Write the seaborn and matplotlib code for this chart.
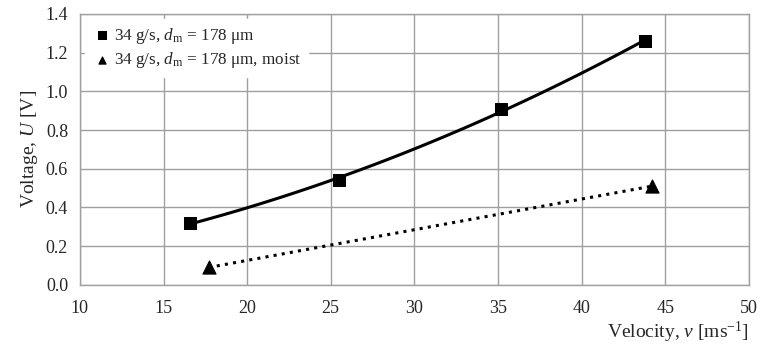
import numpy as np
import pandas as pd
import matplotlib
matplotlib.use("Agg")
import matplotlib.pyplot as plt
import seaborn as sns

# Data
velocity_dry = [16.6, 25.5, 35.2, 43.8]
voltage_dry = [0.32, 0.54, 0.91, 1.26]
velocity_moist = [17.7, 44.2]
voltage_moist = [0.09, 0.51]

label_dry = r"34 g/s, $d_\mathrm{m}$ = 178 μm"
label_moist = r"34 g/s, $d_\mathrm{m}$ = 178 μm, moist"

dry_df = pd.DataFrame({"v": velocity_dry, "U": voltage_dry})
moist_df = pd.DataFrame({"v": velocity_moist, "U": voltage_moist})

sns.set_style("white")
plt.rcParams["font.family"] = ["Liberation Serif", "DejaVu Serif"]
plt.rcParams["mathtext.fontset"] = "custom"
plt.rcParams["mathtext.rm"] = "Liberation Serif"
plt.rcParams["mathtext.it"] = "Liberation Serif:italic"

grid_color = "#a0a0a0"

fig = plt.figure(figsize=(7.61, 3.47), dpi=100)
ax = fig.add_axes([0.105, 0.179, 0.879, 0.781])

# trendlines (quadratic for dry, linear for moist)
sns.regplot(data=dry_df, x="v", y="U", order=2, ci=None, scatter=False, truncate=True,
            line_kws={"color": "black", "lw": 2.2}, ax=ax)
sns.regplot(data=moist_df, x="v", y="U", order=1, ci=None, scatter=False, truncate=True,
            line_kws={"color": "black", "lw": 2.2, "linestyle": (0, (1, 1.7))}, ax=ax)

sns.scatterplot(data=dry_df, x="v", y="U", marker="s", s=85, color="black",
                edgecolor="black", ax=ax, label=label_dry, zorder=5)
sns.scatterplot(data=moist_df, x="v", y="U", marker="^", s=90, color="black",
                edgecolor="black", ax=ax, label=label_moist, zorder=5)

ax.set_xlim(10, 50)
ax.set_ylim(0, 1.4)
ax.set_xticks(np.arange(10, 51, 5))
ax.set_yticks(np.arange(0, 1.41, 0.2))
ax.set_yticklabels([f"{t:.1f}" for t in np.arange(0, 1.41, 0.2)])
ax.grid(True, color=grid_color, lw=1.0)
ax.set_axisbelow(True)
for s in ax.spines.values():
    s.set_color(grid_color)
    s.set_linewidth(1.0)
ax.tick_params(axis="both", which="both", direction="out", length=5, color=grid_color,
               labelsize=13, width=1.0)
ax.tick_params(axis="x", pad=6)

ax.set_xlabel(r"Velocity, $\mathit{v}$ [ms$^{\mathrm{-1}}$]", fontsize=14, loc="right", labelpad=2)
ax.set_ylabel(r"Voltage, $\mathit{U}$ [V]", fontsize=14)

leg = ax.legend(loc="upper left", frameon=True, fontsize=12.3, markerscale=0.55,
                handletextpad=0.1, handlelength=1.2, borderaxespad=0.3, labelspacing=0.25,
                bbox_to_anchor=(0.0, 1.0))
leg.get_frame().set_edgecolor("white")
leg.get_frame().set_facecolor("white")
leg.get_frame().set_alpha(1.0)
leg.get_frame().set_boxstyle("square", pad=0.0)

fig.savefig("out.png", dpi=100)
